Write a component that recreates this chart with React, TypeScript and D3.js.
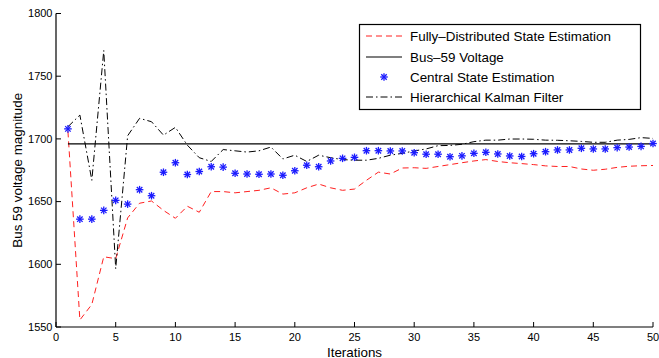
import React from "react";
import * as d3 from "d3";

const iterations = [1,2,3,4,5,6,7,8,9,10,11,12,13,14,15,16,17,18,19,20,21,22,23,24,25,26,27,28,29,30,31,32,33,34,35,36,37,38,39,40,41,42,43,44,45,46,47,48,49,50];

const fullyDistributed = [1706,1555.6,1568,1606,1604.5,1637,1648.7,1650.5,1643,1636.7,1646.3,1641.5,1658,1658,1657,1658,1659,1661,1656,1657,1661,1664,1661,1659,1660,1667,1673.5,1672,1676.8,1677,1676.5,1678,1679.5,1681,1682.4,1683.5,1682,1681,1680.3,1679.5,1678.5,1678,1678,1676,1675,1675.8,1677.3,1678.2,1678.6,1678.8];

const busVoltage = 1696;

const centralEstimation = [1708,1636,1636,1643,1651,1648,1659.5,1654.7,1673.4,1681,1671.6,1674,1677.8,1677.5,1672.6,1672,1671.8,1672,1671,1674.6,1679,1677.8,1682.4,1684.5,1685.3,1690.6,1690.6,1690.4,1690.4,1689,1687.8,1687.8,1685.8,1686.5,1688.5,1689.3,1688,1686.4,1686,1688.2,1689.8,1691.2,1691.2,1692.5,1692,1692,1693,1693.5,1694,1696.3];

const hierarchicalKalman = [1709.7,1719,1667,1770.5,1596.5,1702.5,1716.4,1713.7,1703,1709.2,1695,1685,1682,1691.5,1690.5,1689.5,1690.5,1693.5,1684,1687,1682,1687,1685,1683.5,1683,1683,1684.5,1687,1688.5,1690.4,1692,1694.6,1694.8,1695.7,1697.8,1699,1699,1699.9,1699.9,1699.7,1699,1698.9,1698.5,1698,1697.3,1697.3,1699,1699.6,1701,1700.4];

const xTicks = [0,5,10,15,20,25,30,35,40,45,50];
const yTicks = [1550,1600,1650,1700,1750,1800];

const legendLabels = [
  "Fully\u2013Distributed State Estimation",
  "Bus\u201359 Voltage",
  "Central State Estimation",
  "Hierarchical Kalman Filter",
];

const FONT = "'Liberation Sans', Arial, Helvetica, sans-serif";

function Star({ cx, cy, r = 3.8 }: { cx: number; cy: number; r?: number }) {
  const d = r * 0.72;
  return (
    <g stroke="#1a1aff" strokeWidth={1.3}>
      <line x1={cx - r} y1={cy} x2={cx + r} y2={cy} />
      <line x1={cx} y1={cy - r} x2={cx} y2={cy + r} />
      <line x1={cx - d} y1={cy - d} x2={cx + d} y2={cy + d} />
      <line x1={cx - d} y1={cy + d} x2={cx + d} y2={cy - d} />
    </g>
  );
}

export default function App() {
  const W = 659, H = 358;
  const x = d3.scaleLinear().domain([0, 50]).range([56, 653]);
  const y = d3.scaleLinear().domain([1550, 1800]).range([327, 13.5]);

  const line = d3.line<number>().x((_, i) => x(iterations[i])).y((v) => y(v));

  const redDash = "6,4";
  const dashDot = "7,3,1.5,3";

  const lx0 = 366, lx1 = 402, ltx = 410;
  const ly = [36, 57, 77, 97];
  const labelSize = 13.4;

  return (
    <svg width={W} height={H} style={{ position: "absolute", left: 0, top: 0, background: "#fff" }} fontFamily={FONT}>
      <rect x={0} y={0} width={W} height={H} fill="#fff" />
      {/* series */}
      <path d={line(fullyDistributed) || ""} fill="none" stroke="#ff2020" strokeWidth={1} strokeDasharray={redDash} />
      <line x1={x(iterations[0])} x2={x(iterations[iterations.length - 1])} y1={y(busVoltage)} y2={y(busVoltage)} stroke="#000" strokeWidth={1.2} />
      <path d={line(hierarchicalKalman) || ""} fill="none" stroke="#000" strokeWidth={1} strokeDasharray={dashDot} />
      {centralEstimation.map((v, i) => (
        <Star key={i} cx={x(iterations[i])} cy={y(v)} />
      ))}

      {/* axes */}
      <line x1={56} x2={56} y1={y(1800)} y2={y(1550)} stroke="#000" strokeWidth={1.2} />
      <line x1={56} x2={x(50)} y1={y(1550)} y2={y(1550)} stroke="#000" strokeWidth={1.2} />
      {yTicks.map((t) => (
        <g key={"y" + t}>
          <line x1={56} x2={61} y1={y(t)} y2={y(t)} stroke="#000" strokeWidth={1} />
          <text x={52.5} y={y(t)} dy="0.35em" textAnchor="end" fontSize={11} fill="#000">{t}</text>
        </g>
      ))}
      {xTicks.map((t) => (
        <g key={"x" + t}>
          <line x1={x(t)} x2={x(t)} y1={y(1550)} y2={y(1550) - 5} stroke="#000" strokeWidth={1} />
          <text x={x(t)} y={341} textAnchor="middle" fontSize={11} fill="#000">{t}</text>
        </g>
      ))}
      <text x={(x(0) + x(50)) / 2} y={356.5} textAnchor="middle" fontSize={labelSize} fill="#000">Iterations</text>
      <text transform={`translate(21.5,${(y(1800) + y(1550)) / 2}) rotate(-90)`} textAnchor="middle" fontSize={labelSize} fill="#000">Bus 59 voltage magnitude</text>

      {/* legend */}
      <rect x={359.5} y={24.5} width={281} height={85} fill="#fff" stroke="#000" strokeWidth={1.2} />
      <line x1={lx0} x2={lx1} y1={ly[0]} y2={ly[0]} stroke="#ff2020" strokeWidth={1} strokeDasharray={redDash} />
      <line x1={lx0} x2={lx1} y1={ly[1]} y2={ly[1]} stroke="#000" strokeWidth={1.2} />
      <Star cx={(lx0 + lx1) / 2} cy={ly[2]} />
      <line x1={lx0} x2={lx1} y1={ly[3]} y2={ly[3]} stroke="#000" strokeWidth={1} strokeDasharray={dashDot} />
      {legendLabels.map((s, i) => (
        <text key={s} x={ltx} y={ly[i]} dy="0.36em" fontSize={labelSize} fill="#000">{s}</text>
      ))}
    </svg>
  );
}
